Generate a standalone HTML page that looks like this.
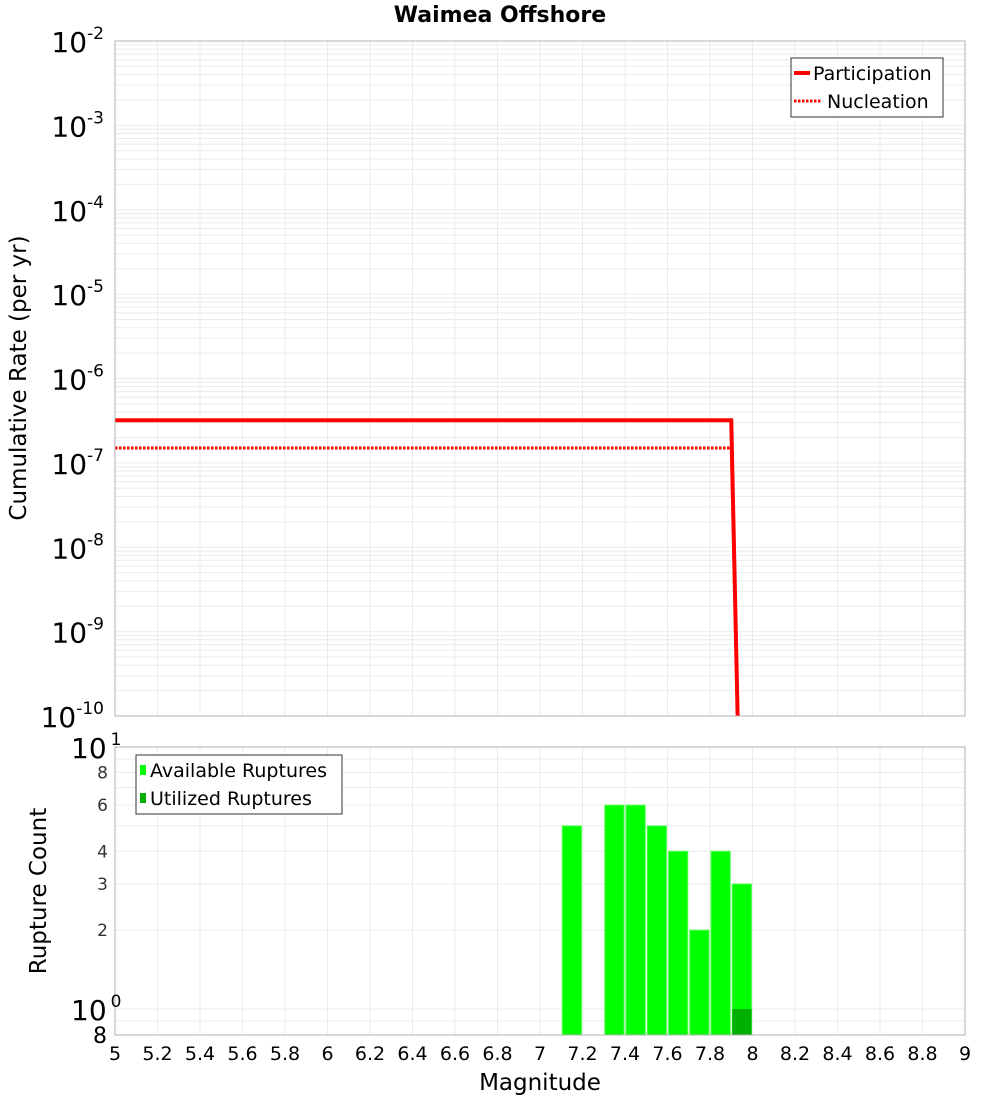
<!DOCTYPE html>
<html><head><meta charset="utf-8"><style>
body{margin:0;background:#fff;font-family:"DejaVu Sans","Liberation Sans",sans-serif}
svg{display:block}
</style></head><body>
<svg id="c" width="1000" height="1100" xmlns="http://www.w3.org/2000/svg">
<text x="500" y="22" text-anchor="middle" font-size="22" font-weight="bold" font-family="DejaVu Sans,sans-serif">Waimea Offshore</text>
<text transform="translate(26,378) rotate(-90)" text-anchor="middle" font-size="23">Cumulative Rate (per yr)</text>
<text transform="translate(46,891) rotate(-90)" text-anchor="middle" font-size="23">Rupture Count</text>
<text x="540" y="1090" text-anchor="middle" font-size="23">Magnitude</text>
<g id="g"></g>
</svg>
<script>
const partMags=[5,7.9,7.93];
const partRates=[3.2e-7,3.2e-7,1e-10];
const nuclMags=[5,7.9,7.93];
const nuclRates=[1.5e-7,1.5e-7,1e-10];
const binMags=[7.15,7.35,7.45,7.55,7.65,7.75,7.85,7.95];
const availCounts=[5,6,6,5,4,2,4,3];
const usedMags=[7.95];
const usedCounts=[1];
const xTicks=[5,5.2,5.4,5.6,5.8,6,6.2,6.4,6.6,6.8,7,7.2,7.4,7.6,7.8,8,8.2,8.4,8.6,8.8,9];
const topExps=[-2,-3,-4,-5,-6,-7,-8,-9,-10];
const botTicks=[8,6,4,3,2];

const NS="http://www.w3.org/2000/svg",G=document.getElementById('g');
const L=115,R=965,T1=41,B1=716,T2=747,B2=1035;
const X=m=>L+(m-5)/4*(R-L);
const Y1=v=>T1+(-2-Math.log10(v))*(B1-T1)/8;
const Y2=v=>1009-Math.log10(v)*262;
function el(t,a,name,txt){const e=document.createElementNS(NS,t);for(const k in a)e.setAttribute(k,a[k]);


if(txt!==undefined)e.textContent=txt;G.appendChild(e);return e;}
el('rect',{x:L,y:T1,width:R-L,height:B1-T1,fill:'#fff'},'rate-plot-area');
el('rect',{x:L,y:T2,width:R-L,height:B2-T2,fill:'#fff'},'count-plot-area');
xTicks.forEach(m=>{el('line',{x1:X(m),x2:X(m),y1:T1,y2:B1,stroke:'#ebebeb'},'x-grid-top');el('line',{x1:X(m),x2:X(m),y1:T2,y2:B2,stroke:'#ebebeb'},'x-grid-bottom');});
for(let e=-10;e<-2;e++)for(let k=1;k<10;k++){const y=Y1(k*Math.pow(10,e));el('line',{x1:L,x2:R,y1:y,y2:y,stroke:'#ebebeb'},'y-grid-top');}
[0.9,1,2,3,4,5,6,7,8,9,10].forEach(v=>{const y=Y2(v);el('line',{x1:L,x2:R,y1:y,y2:y,stroke:'#ebebeb'},'y-grid-bottom');});
const pts=(ms,vs)=>ms.map((m,i)=>X(m)+','+Math.min(Y1(vs[i]),B1+8)).join(' ');
el('polyline',{points:pts(nuclMags,nuclRates),fill:'none',stroke:'#f00','stroke-width':3,'stroke-dasharray':'2.5,1.5'},'nucleation-line');
el('polyline',{points:pts(partMags,partRates),fill:'none',stroke:'#f00','stroke-width':4},'participation-line');
const bw=(R-L)/40;
binMags.forEach((m,i)=>el('rect',{x:X(m)-bw/2+1,y:Y2(availCounts[i]),width:bw-2,height:B2-Y2(availCounts[i]),fill:'#00ff00',stroke:'#55ff55','stroke-width':1},'bar-available-'+m));
usedMags.forEach((m,i)=>el('rect',{x:X(m)-bw/2+1,y:Y2(usedCounts[i]),width:bw-2,height:B2-Y2(usedCounts[i]),fill:'#00b000'},'bar-utilized-'+m));
el('rect',{x:L,y:T1,width:R-L,height:B1-T1,fill:'none',stroke:'#b0b0b0'},'rate-plot-frame');
el('rect',{x:L,y:T2,width:R-L,height:B2-T2,fill:'none',stroke:'#b0b0b0'},'count-plot-frame');
xTicks.forEach(m=>el('text',{x:X(m),y:1060,'text-anchor':'middle','font-size':19},'x-tick-label',String(m)));
topExps.forEach(e=>{const t=el('text',{x:104,y:Y1(Math.pow(10,e))+11,'text-anchor':'end','font-size':28},'y-tick-label-top');
const a=document.createElementNS(NS,'tspan');a.textContent='10';t.appendChild(a);
const b=document.createElementNS(NS,'tspan');b.setAttribute('dy','-13');b.setAttribute('font-size','17');b.textContent=String(e);t.appendChild(b);});
[[10,'1'],[1,'0']].forEach(([v,s])=>{const t=el('text',{x:71,y:Y2(v)+11,'font-size':28},'y-tick-label-bottom');
const a=document.createElementNS(NS,'tspan');a.textContent='10';t.appendChild(a);
const b=document.createElementNS(NS,'tspan');b.setAttribute('dy','-13');b.setAttribute('font-size','17');b.setAttribute('dx','4');b.textContent=s;t.appendChild(b);});
botTicks.forEach(v=>el('text',{x:108,y:Y2(v)+6,'text-anchor':'end','font-size':17,fill:'#333'},'y-tick-label-bottom',String(v)));
el('text',{x:107,y:1043,'text-anchor':'end','font-size':22},'y-tick-label-bottom','8');
el('rect',{x:791,y:58,width:152,height:59,fill:'#fff',stroke:'#333'},'rate-legend');
el('line',{x1:794,x2:810,y1:73,y2:73,stroke:'#f00','stroke-width':4},'legend-participation-swatch');
el('text',{x:813,y:80,'font-size':19},'legend-participation','Participation');
el('line',{x1:794,x2:822,y1:101,y2:101,stroke:'#f00','stroke-width':3,'stroke-dasharray':'2.5,1.5'},'legend-nucleation-swatch');
el('text',{x:827,y:108,'font-size':19},'legend-nucleation','Nucleation');
el('rect',{x:136,y:755,width:206,height:59,fill:'#fff',stroke:'#333'},'count-legend');
el('rect',{x:140,y:765,width:6,height:10,fill:'#00ff00'},'legend-available-swatch');
el('text',{x:150,y:777,'font-size':19},'legend-available','Available Ruptures');
el('rect',{x:140,y:793,width:6,height:10,fill:'#00b000'},'legend-utilized-swatch');
el('text',{x:150,y:805,'font-size':19},'legend-utilized','Utilized Ruptures');
</script>
</body></html>
